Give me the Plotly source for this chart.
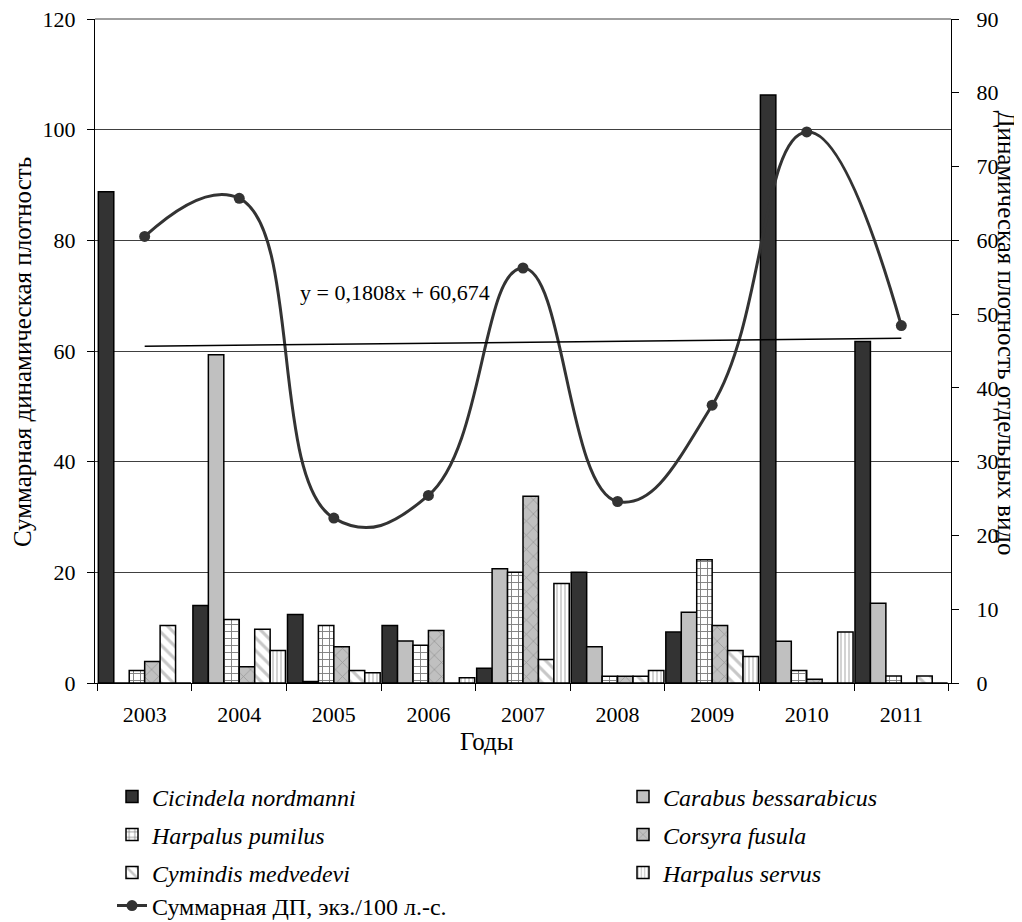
import plotly.graph_objects as go

years = ["2003", "2004", "2005", "2006", "2007", "2008", "2009", "2010", "2011"]

# species dynamic density (right axis)
cicindela = [66.6, 10.5, 9.3, 7.8, 2.0, 15.0, 6.9, 79.7, 46.3]
carabus = [0.0, 44.5, 0.2, 5.7, 15.5, 4.9, 9.6, 5.65, 10.8]
harpalus_pumilus = [1.7, 8.6, 7.8, 5.1, 15.0, 0.9, 16.7, 1.7, 0.95]
corsyra = [2.9, 2.2, 4.9, 7.1, 25.3, 0.9, 7.8, 0.5, 0.0]
cymindis = [7.8, 7.3, 1.7, 0.0, 3.2, 0.9, 4.4, 0.0, 0.95]
harpalus_servus = [0.0, 4.4, 1.4, 0.7, 13.5, 1.7, 3.6, 6.9, 0.0]

# total dynamic density (left axis)
total = [80.7, 87.6, 29.8, 33.9, 75.0, 32.8, 50.2, 99.6, 64.6]

# linear trend y = a*x + b
trend_a = 0.1808
trend_b = 60.674
trend_x = list(range(1, len(years) + 1))
trend_y = [trend_a * i + trend_b for i in trend_x]

left_ticks = [0, 20, 40, 60, 80, 100, 120]
right_ticks = [0, 10, 20, 30, 40, 50, 60, 70, 80, 90]

FONT = "Liberation Serif"
TICK_FS = 22
LEG_FS = 24
TITLE_FS = 25

# page offset of the figure inside the html page (body margin)
OFF = 8
W, H = 1022 - OFF, 922 - OFF
# plot area in page pixels
L, R, T, B = 95, 951, 19, 683

fig = go.Figure()

series = [
    ("<i>Cicindela nordmanni</i>", cicindela, dict(color="#333333"), "legend"),
    ("<i>Carabus bessarabicus</i>", carabus, dict(color="#c0c0c0"), "legend2"),
    ("<i>Harpalus pumilus</i>", harpalus_pumilus,
     dict(color="#ffffff", pattern=dict(shape="+", fgcolor="#000000", bgcolor="#ffffff", size=7, solidity=0.25)), "legend3"),
    ("<i>Corsyra fusula</i>", corsyra,
     dict(color="#c0c0c0", pattern=dict(shape="x", fgcolor="#707070", bgcolor="#c0c0c0", size=10, solidity=0.15)), "legend4"),
    ("<i>Cymindis medvedevi</i>", cymindis,
     dict(color="#ffffff", pattern=dict(shape="\\", fgcolor="#909090", bgcolor="#ffffff", size=9, solidity=0.35)), "legend5"),
    ("<i>Harpalus servus</i>", harpalus_servus,
     dict(color="#ffffff", pattern=dict(shape="|", fgcolor="#909090", bgcolor="#ffffff", size=4, solidity=0.4)), "legend6"),
]

for name, vals, mk, lg in series:
    mk = dict(mk)
    mk["line"] = dict(color="#000000", width=1.5)
    fig.add_trace(go.Bar(x=years, y=vals, name=name, marker=mk, yaxis="y", legend=lg))

fig.add_trace(go.Scatter(
    x=years, y=total, name="Суммарная ДП, экз./100 л.-с.", yaxis="y2",
    mode="lines+markers", line=dict(color="#333333", width=3, shape="spline", smoothing=1.3),
    marker=dict(color="#333333", size=11), legend="legend7"))

fig.add_trace(go.Scatter(
    x=[years[i - 1] for i in trend_x], y=trend_y, yaxis="y2", mode="lines",
    line=dict(color="#000000", width=1.5), showlegend=False, hoverinfo="skip"))


def px(xpix):
    return (xpix - L) / float(R - L)


def py(ypix):
    return (B - ypix) / float(B - T)


legend_pos = {
    "legend": (112, 797), "legend2": (623, 797),
    "legend3": (112, 835), "legend4": (623, 835),
    "legend5": (112, 873), "legend6": (623, 873),
    "legend7": (112, 906),
}
legend_layouts = {}
for k, (lx, ly) in legend_pos.items():
    legend_layouts[k] = dict(x=(lx - OFF) / W, y=1 - (ly - OFF) / H, xref="container", yref="container",
                             xanchor="left", yanchor="middle",
                             bgcolor="rgba(0,0,0,0)", borderwidth=0,
                             font=dict(family=FONT, size=LEG_FS, color="#000000"),
                             itemclick=False)

fig.update_layout(
    width=W, height=H,
    margin=dict(l=L - OFF, r=W - (R - OFF), t=T - OFF, b=H - (B - OFF), autoexpand=False),
    paper_bgcolor="#ffffff", plot_bgcolor="#ffffff",
    font=dict(family=FONT, size=TICK_FS, color="#000000"),
    barmode="group", bargap=0.02, bargroupgap=0.0,
    showlegend=True,
    xaxis=dict(type="category", categoryorder="array", categoryarray=years,
               showline=True, linecolor="#000000", linewidth=1, automargin=False,
               ticks="outside", ticklen=7, tickcolor="#000000", tickson="boundaries",
               ticklabelstandoff=12, ticklabeloverflow="allow",
               showgrid=False, tickfont=dict(family=FONT, size=TICK_FS)),
    yaxis=dict(range=[0, 90], tickvals=right_ticks, side="right", automargin=False,
               showline=True, linecolor="#000000", linewidth=1,
               ticks="outside", ticklen=7, tickcolor="#000000", ticklabelstandoff=13,
               ticklabeloverflow="allow",
               showgrid=False, zeroline=False, tickfont=dict(family=FONT, size=TICK_FS)),
    yaxis2=dict(range=[0, 120], tickvals=left_ticks, side="left", overlaying="y",
                showline=True, linecolor="#000000", linewidth=1, automargin=False,
                ticks="outside", ticklen=7, tickcolor="#000000", ticklabelstandoff=7,
                ticklabeloverflow="allow",
                showgrid=True, gridcolor="#404040", gridwidth=1, zeroline=False,
                tickfont=dict(family=FONT, size=TICK_FS)),
    shapes=[
        dict(type="line", xref="paper", yref="paper", x0=0, x1=1, y0=1, y1=1,
             line=dict(color="#404040", width=1), layer="below"),
    ],
    annotations=[
        dict(text="y = 0,1808x + 60,674", xref="paper", yref="paper",
             x=px(395), y=py(292), xanchor="center", yanchor="middle", showarrow=False,
             font=dict(family=FONT, size=22, color="#000000")),
        dict(text="Суммарная динамическая плотность", xref="paper", yref="paper",
             x=px(22), y=py(352), xanchor="center", yanchor="middle", showarrow=False,
             textangle=-90, font=dict(family=FONT, size=TITLE_FS, color="#000000")),
        dict(text="Динамическая плотность отдельных видо", xref="paper", yref="paper",
             x=px(1006), y=py(108), xanchor="center", yanchor="top", showarrow=False,
             textangle=90, font=dict(family=FONT, size=TITLE_FS, color="#000000")),
        dict(text="Годы", xref="paper", yref="paper",
             x=px(487), y=py(741), xanchor="center", yanchor="middle", showarrow=False,
             font=dict(family=FONT, size=TITLE_FS, color="#000000")),
    ],
    **legend_layouts,
)

fig.write_html("out.html")
